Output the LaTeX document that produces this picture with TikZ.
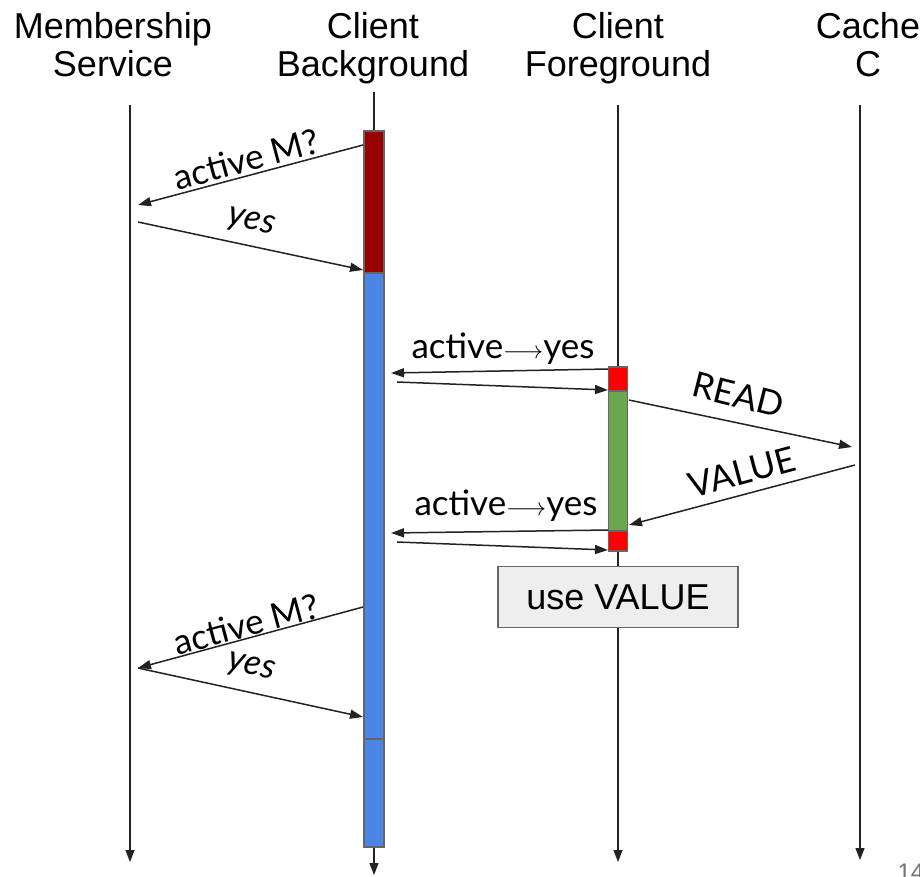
\documentclass[tikz,border=0pt]{standalone}
\usepackage{fontspec}
\setmainfont{Liberation Sans}
\newfontfamily\lato{Lato}
\usetikzlibrary{arrows.meta}

\definecolor{linegray}{HTML}{222222}
\definecolor{bordergray}{HTML}{666666}
\definecolor{darkred}{HTML}{990000}
\definecolor{busyblue}{HTML}{4A86E8}
\definecolor{okgreen}{HTML}{6AA84F}
\definecolor{alertred}{HTML}{FF0000}
\definecolor{notefill}{HTML}{EEEEEE}

\tikzset{
  head/.style={font=\fontsize{36}{38}\selectfont, align=center, inner sep=0pt, anchor=north},
  life/.style={draw=linegray, line width=1.3pt, -{Triangle[length=12pt,width=9pt]}},
  msg/.style={draw=linegray, line width=1.5pt, -{Triangle[length=13pt,width=9pt]}},
  lbl/.style={font=\lato\fontsize{35}{38}\selectfont, inner sep=0pt},
  actbar/.style={draw=bordergray, line width=1.5pt, minimum width=20pt, inner sep=0pt, anchor=north},
}

\begin{document}
\begin{tikzpicture}[x=1pt,y=-1pt]
\useasboundingbox (0,0) rectangle (920,876);

% participants
\node[head] (hM) at (113,12) {Membership\\Service};
\node[head] (hB) at (373,12) {Client\\Background};
\node[head] (hF) at (618,12) {Client\\Foreground};
\node[head] (hC) at (868,12) {Cache\\C};

% lifelines
\coordinate (mTop) at (130,105);  \coordinate (mEnd) at (130,862);
\coordinate (bTop) at (374,92);   \coordinate (bEnd) at (374,875);
\coordinate (fTop) at (618,105);  \coordinate (fEnd) at (618,862);
\coordinate (cTop) at (860,105);  \coordinate (cEnd) at (860,860);
\draw[life] (mTop) -- (mEnd);
\draw[life] (bTop) -- (bEnd);
\draw[life] (fTop) -- (fEnd);
\draw[life] (cTop) -- (cEnd);

% activation bars of the background task
\node[actbar, fill=darkred,  minimum height=142pt] (bRed)   at (374,130) {};
\node[actbar, fill=busyblue, minimum height=466pt] (bBlue)  at (374,272) {};
\node[actbar, fill=busyblue, minimum height=108pt] (bBlue2) at (374,738) {};

% activation bars of the foreground task
\node[actbar, fill=alertred, minimum width=19pt, minimum height=24pt]  (fRed1)  at (618,366) {};
\node[actbar, fill=okgreen,  minimum width=19pt, minimum height=140pt] (fGreen) at (618,390) {};
\node[actbar, fill=alertred, minimum width=19pt, minimum height=20pt]  (fRed2)  at (618,530) {};

% note
\node[draw=bordergray, line width=1.5pt, fill=notefill, minimum width=240pt,
      minimum height=61pt, font=\fontsize{36}{38}\selectfont] (note) at (618,597) {use VALUE};

% message end points
\coordinate (q1s) at (363,145); \coordinate (q1e) at (138,205);
\coordinate (a1s) at (138,222); \coordinate (a1e) at (363,270);
\coordinate (f1s) at (608,369); \coordinate (f1e) at (391,373);
\coordinate (g1s) at (397,382); \coordinate (g1e) at (608,390);
\coordinate (rs)  at (629,400); \coordinate (re)  at (852,447);
\coordinate (vs)  at (855,465); \coordinate (ve)  at (629,525);
\coordinate (f2s) at (608,530); \coordinate (f2e) at (391,533);
\coordinate (g2s) at (397,542); \coordinate (g2e) at (608,550);
\coordinate (q2s) at (363,607); \coordinate (q2e) at (138,668);
\coordinate (a2s) at (138,668); \coordinate (a2e) at (363,717);

% messages
\draw[msg] (q1s) -- (q1e);
\draw[msg] (a1s) -- (a1e);
\draw[msg] (f1s) -- (f1e);
\draw[msg] (g1s) -- (g1e);
\draw[msg] (rs) -- (re);
\draw[msg] (vs) -- (ve);
\draw[msg] (f2s) -- (f2e);
\draw[msg] (g2s) -- (g2e);
\draw[msg] (q2s) -- (q2e);
\draw[msg] (a2s) -- (a2e);

% message labels
\node[lbl, rotate=15]  (lq1) at (246,159) {active M?};
\node[lbl, rotate=-13] (la1) at (251,223) {\itshape yes};
\node[lbl, anchor=base] (lf1) at (503,358) {active$\longrightarrow$yes};
\node[lbl, rotate=-14] (lr)  at (738,395) {READ};
\node[lbl, rotate=15]  (lv)  at (742,472) {VALUE};
\node[lbl, anchor=base] (lf2) at (506,515) {active$\longrightarrow$yes};
\node[lbl, rotate=15]  (lq2) at (246,624) {active M?};
\node[lbl, rotate=-13] (la2) at (251,668) {\itshape yes};

% page number
\node[text=black!55, font=\fontsize{24}{26}\selectfont, anchor=base west] (pg) at (894,880) {14};
\end{tikzpicture}
\end{document}
